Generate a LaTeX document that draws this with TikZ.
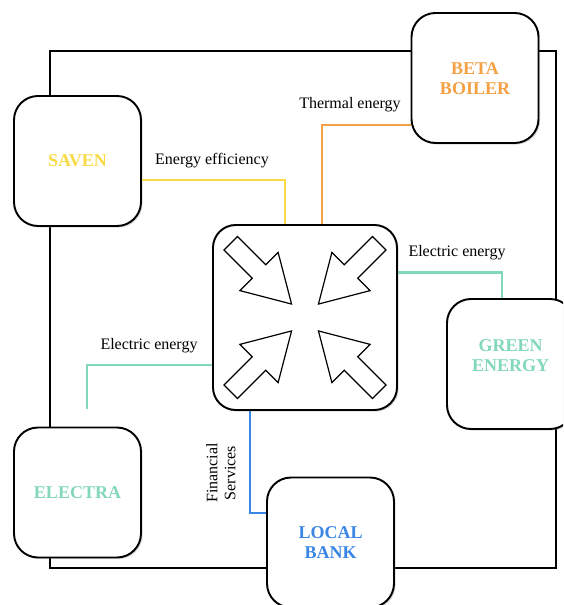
\documentclass[tikz,border=0pt]{standalone}
\usepackage{fontspec}
\setmainfont{Liberation Serif}
\usetikzlibrary{shadows}
\definecolor{cyel}{HTML}{F8DA45}
\definecolor{cora}{HTML}{F4A045}
\definecolor{cteal}{HTML}{82D8B8}
\definecolor{cblue}{HTML}{3A86E5}
\begin{document}
\begin{tikzpicture}[x=0.75pt,y=-0.75pt,
  box/.style={draw=black, line width=1.45pt, fill=white, rounded corners=18pt,
    minimum width=95.25pt, minimum height=97.5pt, inner sep=0pt, align=center,
    font=\fontsize{13.5}{15}\selectfont\bfseries,
    drop shadow={shadow xshift=1.2pt, shadow yshift=-1.2pt, opacity=0.3}},
  lbl/.style={font=\fontsize{12}{13.5}\selectfont, inner sep=0pt},
  link/.style={line width=1.9pt},
  blockarrow/.style={draw=black, line width=0.9pt, fill=white, line join=miter}]
\useasboundingbox (0,0) rectangle (563,605);
\clip (0,0) rectangle (563,605);
% outer frame
\draw[line width=1.7pt] (50,51) rectangle (556,568);
% hub
\node[box, minimum width=138pt, minimum height=138.75pt, rounded corners=17pt] (hub) at (305,317.5) {};
\foreach \a in {-45,45,-135,135}
  \draw[blockarrow, shift={(305,317.5)}, rotate=\a]
    (-105,-9.5) -- (-65,-9.5) -- (-65,-27) -- (-19,0) -- (-65,27) -- (-65,9.5) -- (-105,9.5) -- cycle;
% partner nodes
\node[box, text=cyel] (saven) at (77.5,161) {SAVEN};
\node[box, text=cora] (beta) at (475,78) {\raisebox{-2pt}[\height][\depth]{\begin{tabular}{@{}c@{}}BETA\\BOILER\end{tabular}}};
\node[box, text=cteal] (green) at (510.5,364) {\raisebox{5pt}[\height][\depth]{\begin{tabular}{@{}c@{}}GREEN\\ENERGY\end{tabular}}};
\node[box, text=cteal] (electra) at (77.5,492.5) {ELECTRA};
\node[box, text=cblue] (bank) at (330.5,542.5) {LOCAL\\BANK};
% connectors
\coordinate (eend) at (87,409);
\draw[link, cyel] ([shift={(0,19)}]saven.east) -| ([shift={(-20,0)}]hub.north);
\draw[link, cora] ([shift={(0,47)}]beta.west) -| ([shift={(17,0)}]hub.north);
\draw[link, cteal] ([shift={(0,-45)}]hub.east) -| ([shift={(-8.5,0)}]green.north);
\draw[link, cteal] ([shift={(0,47.5)}]hub.west) -| (eend);
\draw[link, cblue] ([shift={(-55,0)}]hub.south) |- ([shift={(0,-29.5)}]bank.west);
% labels
\node[lbl] (lee) at (212,161) {Energy efficiency};
\node[lbl] (lte) at (350,105) {Thermal energy};
\node[lbl] (le1) at (457,253) {Electric energy};
\node[lbl] (le2) at (149,346) {Electric energy};
\node[lbl, rotate=90, align=center] (lfs) at (221,473) {Financial\\Services};
\end{tikzpicture}
\end{document}
